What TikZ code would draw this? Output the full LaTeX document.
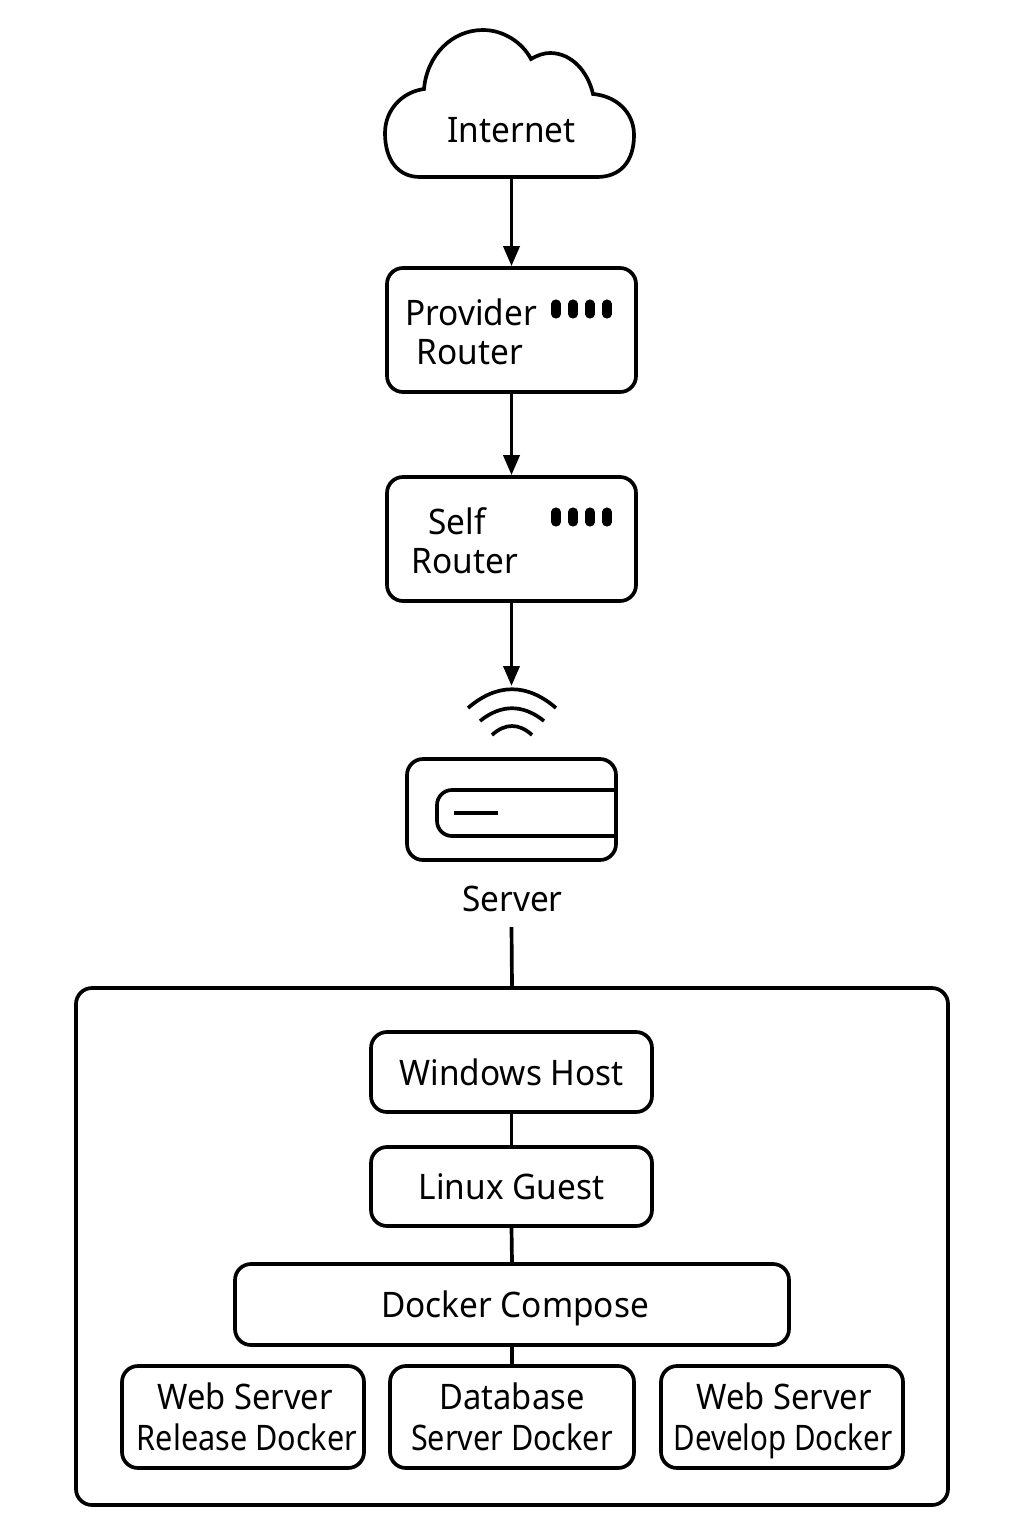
\documentclass[tikz,border=0pt]{standalone}
\usepackage{fontspec}
\setmainfont[FakeStretch=0.95]{Noto Sans}
\newfontfamily\topfont[FakeStretch=0.93]{Noto Sans}
\newfontfamily\narrowfont[FakeStretch=0.87]{Noto Sans}
\newfontfamily\thinfont[FakeStretch=0.84]{Noto Sans}
\newcommand\lifttop{\rule{0pt}{10pt}}
\newcommand\liftbot{\rule[-2.5pt]{0pt}{2.5pt}}
\usetikzlibrary{arrows.meta}
\tikzset{
  box/.style={draw,line width=1.05pt,rounded corners=1.6mm,inner sep=0pt,align=center},
  label/.style={inner sep=0pt,font=\fontsize{10}{11.7}\selectfont},
  link/.style={line width=1.05pt},
  arrow/.style={link,-{Stealth[length=2mm,width=1.6mm,inset=0pt]}},
  leds/.style={line width=2.6pt,line cap=round},
}
\begin{document}
\begin{tikzpicture}[x=1cm,y=-1cm]
  \useasboundingbox (0,0) rectangle (10.24,15.36);
  % cloud
  \draw[link] (4.20,1.77) .. controls (3.98,1.77) and (3.85,1.60) .. (3.85,1.33)
    .. controls (3.85,1.10) and (4.02,0.92) .. (4.24,0.89)
    .. controls (4.27,0.55) and (4.52,0.30) .. (4.83,0.30)
    .. controls (5.03,0.30) and (5.22,0.42) .. (5.31,0.59)
    .. controls (5.38,0.55) and (5.44,0.53) .. (5.50,0.53)
    .. controls (5.72,0.53) and (5.88,0.72) .. (5.93,0.94)
    .. controls (6.16,0.96) and (6.34,1.12) .. (6.34,1.35)
    .. controls (6.34,1.62) and (6.20,1.77) .. (5.97,1.77) -- cycle;
  \node[label] (internet) at (5.115,1.30) {Internet};
  \coordinate (cloudbot) at (5.115,1.77);
  % routers
  \node[box,minimum width=2.49cm,minimum height=1.24cm] (provider) at (5.115,3.30) {};
  \node[box,minimum width=2.49cm,minimum height=1.24cm] (self) at (5.115,5.39) {};
  \node[label] (providertop) at (4.71,3.12) {Provider};
  \node[label] (providerbot) at (4.70,3.52) {Router};
  \node[label] (selftop) at (4.57,5.21) {Self};
  \node[label] (selfbot) at (4.65,5.61) {Router};
  \foreach \x in {5.56,5.73,5.90,6.07}{
    \draw[leds] (\x,3.04) -- (\x,3.14);
    \draw[leds] (\x,5.12) -- (\x,5.22);
  }
  % server
  \coordinate (wifitop) at (5.115,6.86);
  \draw[link] (4.68,7.08) .. controls (4.97,6.83) and (5.27,6.83) .. (5.56,7.08);
  \draw[link] (4.80,7.21) .. controls (5.01,7.04) and (5.23,7.04) .. (5.44,7.21);
  \draw[link] (4.92,7.35) .. controls (5.05,7.23) and (5.19,7.23) .. (5.32,7.35);
  \node[box,minimum width=2.09cm,minimum height=1.01cm] (server) at (5.115,8.095) {};
  \draw[link,rounded corners=1.5mm] (6.14,7.90) -- (4.37,7.90) -- (4.37,8.36) -- (6.14,8.36);
  \draw[link] (4.54,8.13) -- (4.98,8.13);
  \node[label] (serverlabel) at (5.125,8.99) {Server};
  \coordinate (serverbot) at (5.115,9.27);
  % host
  \node[box,minimum width=8.72cm,minimum height=5.17cm] (host) at (5.12,12.465) {};
  \node[box,label,minimum width=2.81cm,minimum height=.80cm] (windows) at (5.115,10.72) {Windows Host};
  \node[box,label,minimum width=2.81cm,minimum height=.79cm] (linux) at (5.115,11.865) {Linux Guest};
  \node[box,label,minimum width=5.54cm,minimum height=.81cm] (compose) at (5.12,13.045) {\lifttop\liftbot\hspace*{.6mm}Docker Compose};
  \node[box,label,minimum width=2.42cm,minimum height=1.02cm] (release) at (2.43,14.17) {\topfont\lifttop\hspace*{.4mm}Web Server\\\narrowfont\liftbot\hspace*{.8mm}Release Docker};
  \node[box,label,minimum width=2.44cm,minimum height=1.02cm] (database) at (5.12,14.17) {\topfont\lifttop Database\\\narrowfont\liftbot Server Docker};
  \node[box,label,minimum width=2.42cm,minimum height=1.02cm] (develop) at (7.82,14.17) {\topfont\lifttop\hspace*{.4mm}Web Server\\\thinfont\liftbot\hspace*{.2mm}Develop Docker};
  % links
  \draw[arrow] (cloudbot) -- (provider.north);
  \draw[arrow] (provider.south) -- (self.north);
  \draw[arrow] (self.south) -- (wifitop);
  \draw[link] (serverbot) -- (host.north);
  \draw[link] (windows.south) -- (linux.north);
  \draw[link] (linux.south) -- (compose.north);
  \draw[link] (compose.south) -- (database.north);
\end{tikzpicture}
\end{document}
